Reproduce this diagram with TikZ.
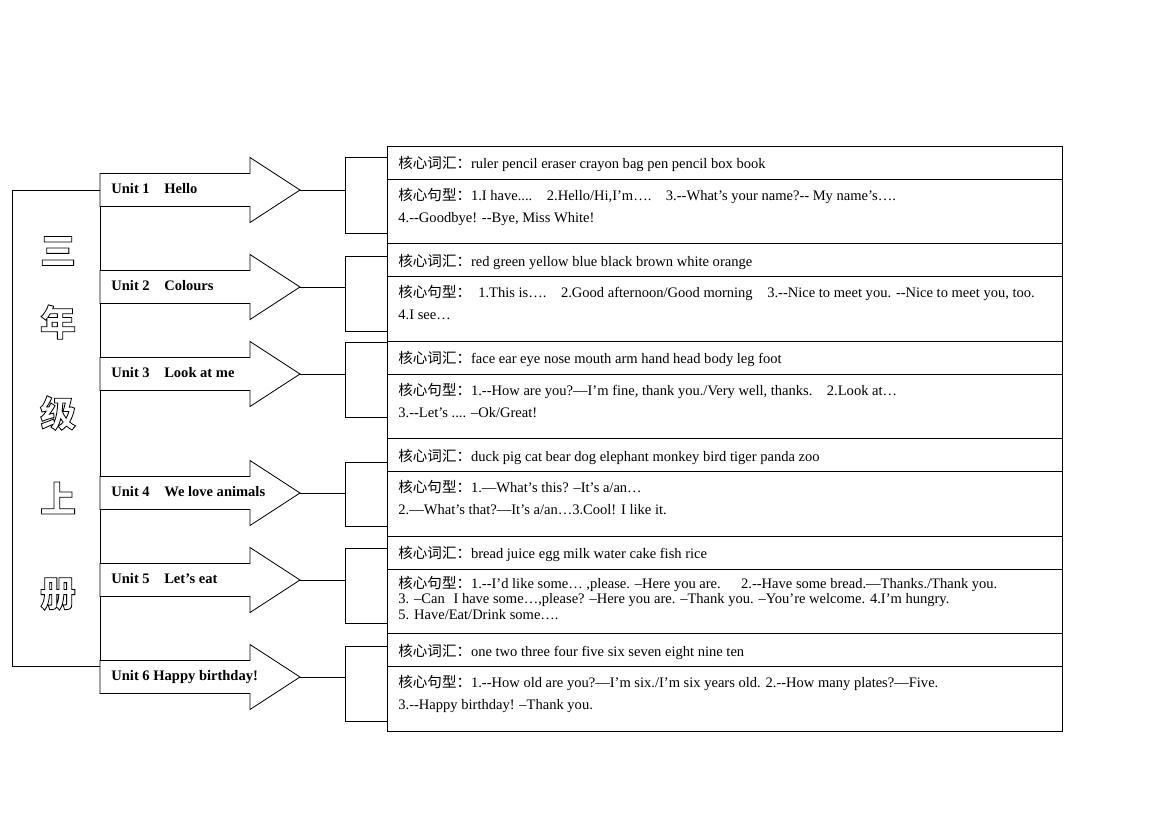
\documentclass[tikz,border=0pt]{standalone}
\usepackage{fontspec}
\setmainfont{Liberation Serif}[Ligatures=TeXOff]
\newfontfamily\cjk{Noto Sans CJK SC}
\newcommand{\wuhao}{\fontsize{10.5}{12.6}\selectfont}
\newcommand{\cihui}{{\cjk 核心词汇：}}
\newcommand{\juxing}{{\cjk 核心句型：}}
\newcommand{\hollow}[1]{\special{pdf:literal direct q 1 Tr 0.6 w}#1\special{pdf:literal direct Q}}
\usepackage{tikz}

\tikzset{
  unitname/.style={anchor=base west, inner sep=0pt, font=\wuhao\bfseries},
  row/.style={anchor=base west, inner sep=0pt, font=\wuhao},
  bigchar/.style={inner sep=0pt, font=\cjk\bfseries\fontsize{26}{26}\selectfont},
}

\begin{document}
\begin{tikzpicture}[x=0.254mm, y=-0.254mm, line width=0.6pt]
    \useasboundingbox (0,0) rectangle (1169,826);

    % frame of the grade title
    \draw (100,190) -- (12,190) -- (12,666) -- (100,666);
    \draw (100,190) -- (100,677);
    \node[bigchar] (san) at (58,251) {\hollow{三}};
    \node[bigchar] (nian) at (58,322) {\hollow{年}};
    \node[bigchar] (ji) at (58,413) {\hollow{级}};
    \node[bigchar] (shang) at (58,498) {\hollow{上}};
    \node[bigchar] (ce) at (58,594) {\hollow{册}};

    % arrows of the units
    \foreach \i/\y in {1/190, 2/287, 3/374, 4/493, 5/580, 6/677} {
        \draw[fill=white] (100,\y-16.5) -- (250,\y-16.5) -- (250,\y-32.5) -- (300,\y)
            -- (250,\y+32.5) -- (250,\y+16.5) -- (100,\y+16.5) -- cycle;
        \coordinate (tip\i) at (300,\y);
    }

    % names of units
    \node[unitname] (unit1) at (111,193.5) {Unit 1\quad Hello};
    \node[unitname] (unit2) at (111,290.5) {Unit 2\quad Colours};
    \node[unitname] (unit3) at (111,377.5) {Unit 3\quad Look at me};
    \node[unitname] (unit4) at (111,496.5) {Unit 4\quad We love animals};
    \node[unitname] (unit5) at (111,583.5) {Unit 5\quad Let’s eat};
    \node[unitname] (unit6) at (111,680.5) {Unit 6 Happy birthday!};

    % brackets, lines from the tips
    \foreach \i/\y/\ya/\yb in {1/190/157/233, 2/287/256/331, 3/374/342/417,
                               4/493/462/526, 5/580/548/623, 6/677/646/721} {
        \coordinate (brk\i) at (345,\y);
        \draw (tip\i) -- (brk\i);
        \draw (387,\ya) -| (345,\yb) -- (387,\yb);
    }

    % boxes: words row and sentences row
    \foreach \i in {1,...,6} {
        \pgfmathsetmacro{\T}{146+97.5*(\i-1)}
        \draw (387,\T) rectangle (1062,\T+97.5);
        \draw (387,\T+33) -- (1062,\T+33);
    }

    % unit 1
    \node[row] (voc1) at (398,168.5) {\cihui ruler pencil eraser crayon bag pen pencil box book};
    \node[row] (sen1a) at (398,200) {\juxing 1.I have....\quad 2.Hello/Hi,I’m….\quad 3.--What’s your name?-- My name’s….};
    \node[row] (sen1b) at (398,222) {4.--Goodbye! --Bye, Miss White!};

    % unit 2
    \node[row] (voc2) at (398,266) {\cihui red green yellow blue black brown white orange};
    \node[row] (sen2a) at (398,297.5) {\juxing\enspace 1.This is….\quad 2.Good afternoon/Good morning\quad 3.--Nice to meet you. --Nice to meet you, too.};
    \node[row] (sen2b) at (398,319.5) {4.I see…};

    % unit 3
    \node[row] (voc3) at (398,363.5) {\cihui face ear eye nose mouth arm hand head body leg foot};
    \node[row] (sen3a) at (398,395) {\juxing 1.--How are you?—I’m fine, thank you./Very well, thanks.\quad 2.Look at…};
    \node[row] (sen3b) at (398,417) {3.--Let’s .... –Ok/Great!};

    % unit 4
    \node[row] (voc4) at (398,461) {\cihui duck pig cat bear dog elephant monkey bird tiger panda zoo};
    \node[row] (sen4a) at (398,492.5) {\juxing 1.—What’s this? –It’s a/an…};
    \node[row] (sen4b) at (398,514.5) {2.—What’s that?—It’s a/an…3.Cool! I like it.};

    % unit 5
    \node[row] (voc5) at (398,558.5) {\cihui bread juice egg milk water cake fish rice};
    \node[row] (sen5a) at (398,588) {\juxing 1.--I’d like some… ,please. –Here you are.\hspace{1.4em}2.--Have some bread.—Thanks./Thank you.};
    \node[row] (sen5b) at (398,603.5) {3. –Can\hspace{0.6em}I have some…,please? –Here you are. –Thank you. –You’re welcome. 4.I’m hungry.};
    \node[row] (sen5c) at (398,619) {5. Have/Eat/Drink some….};

    % unit 6
    \node[row] (voc6) at (398,656) {\cihui one two three four five six seven eight nine ten};
    \node[row] (sen6a) at (398,687.5) {\juxing 1.--How old are you?—I’m six./I’m six years old. 2.--How many plates?—Five.};
    \node[row] (sen6b) at (398,709.5) {3.--Happy birthday! –Thank you.};

\end{tikzpicture}
\end{document}
